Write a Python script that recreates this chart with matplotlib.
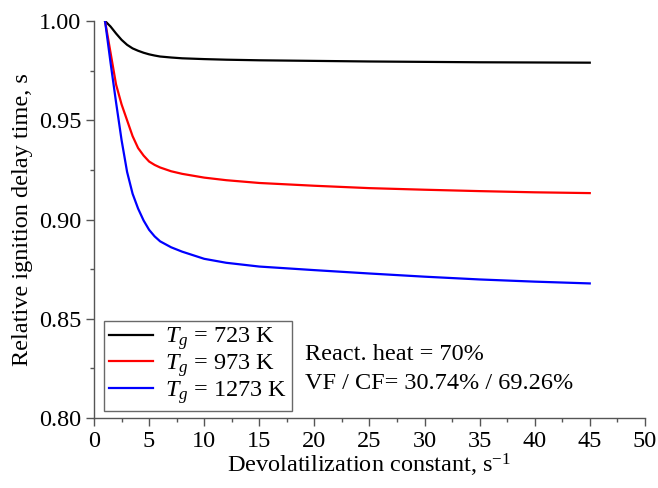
import matplotlib
matplotlib.use("Agg")
import matplotlib.pyplot as plt
from matplotlib.ticker import MultipleLocator, FormatStrFormatter

x = [1, 1.5, 2, 2.5, 3, 3.5, 4, 4.5, 5, 5.5, 6, 7, 8, 10, 12, 15, 20, 25, 30, 35, 40, 45]
black = [1.000, 0.9972, 0.9937, 0.9905, 0.9880, 0.9862, 0.9850, 0.9840, 0.9832, 0.9826, 0.9821,
         0.9816, 0.9812, 0.9808, 0.9805, 0.9802, 0.9799, 0.9796, 0.9794, 0.9792, 0.9791, 0.9790]
red = [1.000, 0.984, 0.968, 0.958, 0.950, 0.942, 0.936, 0.9322, 0.9292, 0.9275, 0.9262, 0.9243,
       0.9230, 0.9211, 0.9198, 0.9184, 0.9170, 0.9158, 0.9150, 0.9143, 0.9137, 0.9133]
blue = [1.000, 0.979, 0.959, 0.940, 0.924, 0.913, 0.9055, 0.8995, 0.8948, 0.8915, 0.8890, 0.8860,
        0.8838, 0.8802, 0.8782, 0.8763, 0.8745, 0.8728, 0.8712, 0.8698, 0.8687, 0.8678]
labels = [r"$T_g$ = 723 K", r"$T_g$ = 973 K", r"$T_g$ = 1273 K"]

plt.rcParams['font.family'] = ['Liberation Serif', 'DejaVu Serif']
plt.rcParams['mathtext.fontset'] = 'custom'
plt.rcParams['mathtext.rm'] = 'Liberation Serif'
plt.rcParams['mathtext.it'] = 'Liberation Serif:italic'

FS = 17.5
fig = plt.figure(figsize=(6.58, 4.88), dpi=100)
ax = fig.add_axes([0.1429, 0.1434, 0.8371, 0.8136])

for ys, c, lab in zip([black, red, blue], ['black', 'red', 'blue'], labels):
    ax.plot(x, ys, color=c, lw=1.6, label=lab, solid_joinstyle='round')

ax.set_xlim(0, 50)
ax.set_ylim(0.80, 1.00)
ax.xaxis.set_major_locator(MultipleLocator(5))
ax.xaxis.set_minor_locator(MultipleLocator(2.5))
ax.yaxis.set_major_locator(MultipleLocator(0.05))
ax.yaxis.set_minor_locator(MultipleLocator(0.025))
ax.yaxis.set_major_formatter(FormatStrFormatter('%.2f'))
for s in ['top', 'right']:
    ax.spines[s].set_visible(False)
for s in ['left', 'bottom']:
    ax.spines[s].set_color('#555555')
    ax.spines[s].set_linewidth(1.0)
ax.tick_params(which='major', direction='out', length=6, width=1, color='#555555',
               labelsize=FS, pad=3)
ax.tick_params(which='minor', direction='out', length=3, width=1, color='#555555')

ax.set_xlabel(r"Devolatilization constant, s$^{\mathregular{-1}}$", fontsize=FS, labelpad=0)
ax.set_ylabel("Relative ignition delay time, s", fontsize=FS, labelpad=4)

leg = ax.legend(loc='lower left', bbox_to_anchor=(0.018, 0.018), fontsize=FS, frameon=True,
                fancybox=False, edgecolor='#444444', handlelength=1.8, handletextpad=0.5,
                labelspacing=0.0, borderpad=0.2, borderaxespad=0)
leg.get_frame().set_linewidth(1.0)

ax.text(0.383, 0.159, "React. heat = 70%", transform=ax.transAxes, fontsize=FS, va='center')
ax.text(0.383, 0.088, "VF / CF= 30.74% / 69.26%", transform=ax.transAxes, fontsize=FS, va='center')

fig.savefig("out.png", dpi=100)
